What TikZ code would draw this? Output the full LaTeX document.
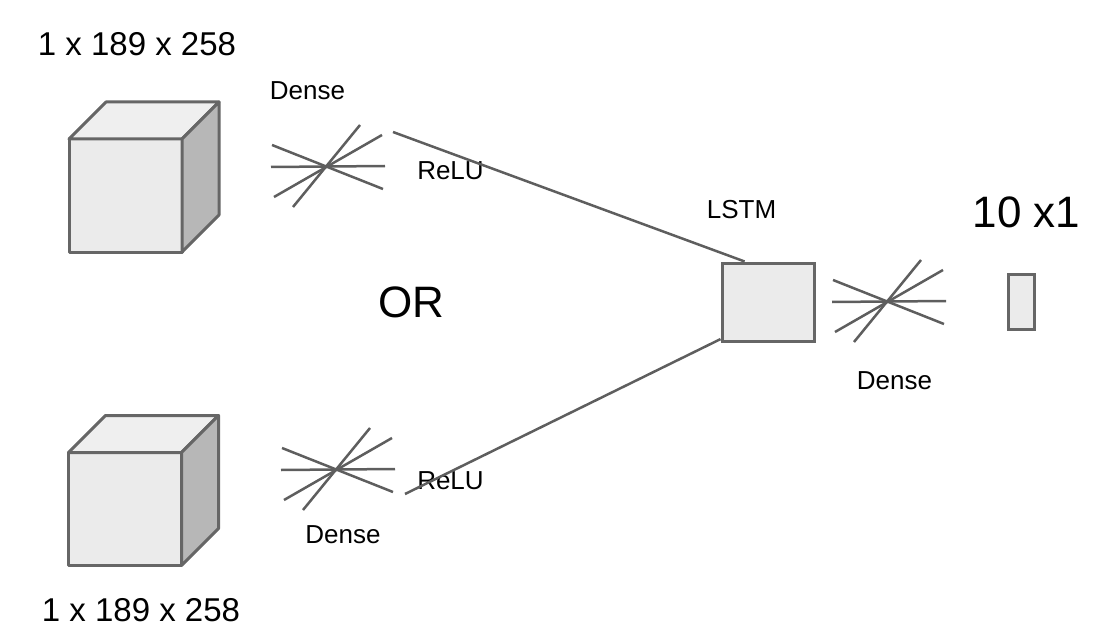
\documentclass[tikz,border=0pt]{standalone}
\usepackage{fontspec}
\setmainfont{Liberation Sans}
\usetikzlibrary{positioning}
\definecolor{edgeGray}{HTML}{666666}
\definecolor{lineGray}{HTML}{5E5E5E}
\definecolor{faceGray}{HTML}{EBEBEB}
\definecolor{topGray}{HTML}{EFEFEF}
\definecolor{sideGray}{HTML}{B7B7B7}
\tikzset{
    cube/.pic={
		\filldraw[edgeGray, fill=faceGray, line width=1.5pt, line join=round] (-56.5,-56.5) rectangle (56.5,56.5);
		\filldraw[edgeGray, fill=topGray, line width=1.5pt, line join=round] (-56.5,-56.5) -- (-19.5,-93.5) -- (93.5,-93.5) -- (56.5,-56.5) -- cycle;
		\filldraw[edgeGray, fill=sideGray, line width=1.5pt, line join=round] (56.5,-56.5) -- (93.5,-93.5) -- (93.5,19.5) -- (56.5,56.5) -- cycle;
	}
}
\tikzset{
    fan/.pic={
		\draw[lineGray, line width=1.25pt] (-56,0) -- (58,-1);
		\draw[lineGray, line width=1.25pt] (-55,-22) -- (56,22);
		\draw[lineGray, line width=1.25pt] (-53,30) -- (55,-32);
		\draw[lineGray, line width=1.25pt] (-34,40) -- (33,-42);
	}
}
\tikzset{
    layerBox/.style={draw=edgeGray, fill=faceGray, line width=1.5pt, inner sep=0pt},
    small/.style={font=\fontsize{13}{15}\selectfont, inner sep=0pt},
    shapeLabel/.style={font=\fontsize{16.5}{19}\selectfont, inner sep=0pt},
    big/.style={font=\fontsize{22}{26}\selectfont, inner sep=0pt},
    link/.style={lineGray, line width=1.25pt}
}

\begin{document}
\begin{tikzpicture}[x=0.5pt, y=-0.5pt]
			\useasboundingbox (0,0) rectangle (1098,642);
			% inputs
			\pic at (125.5,195.5) {cube};
			\pic at (125,509) {cube};
			\node[shapeLabel] (inTop) at (137,44) {1 x 189 x 258};
			\node[shapeLabel] (inBot) at (141,610) {1 x 189 x 258};
			\node[big] (or) at (411,302) {OR};
			% dense layers
			\pic at (327,167) {fan};
			\pic at (337,470) {fan};
			\pic at (888,302) {fan};
			\node[small] (denseTop) at (307.5,91) {Dense};
			\node[small] (reluTop) at (450.5,171) {ReLU};
			\node[small] (denseBot) at (343,535) {Dense};
			\node[small] (reluBot) at (450.5,481) {ReLU};
			\node[small] (denseOut) at (894.5,381) {Dense};
			% lstm and output
			\node[layerBox, minimum width=46pt, minimum height=39pt] (lstm) at (768,302) {};
			\node[small] (lstmLabel) at (741.5,210) {LSTM};
			\node[layerBox, minimum width=13pt, minimum height=27.5pt] (out) at (1021,301.5) {};
			\node[big] (outLabel) at (1026.5,212) {10 x1};
			\coordinate (topOut) at (393,132);
			\coordinate (botOut) at (405,494);
			\draw[link] (topOut) -- (lstm.120.5);
			\draw[link] (botOut) -- (lstm.218);
		\end{tikzpicture}
\end{document}
